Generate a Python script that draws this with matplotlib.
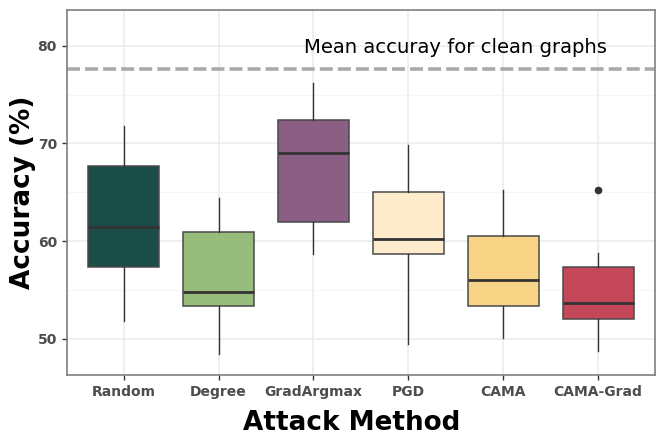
import matplotlib
matplotlib.use("Agg")
import matplotlib.pyplot as plt
from matplotlib.ticker import MultipleLocator

# ------ Data ------
methods = ["Random", "Degree", "GradArgmax", "PGD", "CAMA", "CAMA-Grad"]
whisk_lo = [51.8, 48.4, 58.65, 49.45, 50.1, 48.7]
q1 = [57.35, 53.4, 61.95, 58.7, 53.35, 52.05]
median = [61.4, 54.8, 69.0, 60.2, 56.05, 53.65]
q3 = [67.7, 60.95, 72.35, 65.05, 60.5, 57.3]
whisk_hi = [71.8, 64.45, 76.2, 69.8, 65.2, 58.8]
outliers = [[], [], [], [], [], [65.25]]
colors = ["#1B4D48", "#97BC7B", "#8B5E83", "#FEEBCC", "#F8D486", "#C5485A"]
clean_mean = 77.6

stats = []
for i in range(len(methods)):
    stats.append({"label": methods[i], "whislo": whisk_lo[i], "q1": q1[i],
                  "med": median[i], "q3": q3[i], "whishi": whisk_hi[i],
                  "fliers": outliers[i]})

fig = plt.figure(figsize=(6.65, 4.37), dpi=100)
ax = fig.add_axes([0.1003, 0.142, 0.8847, 0.835])

ax.set_axisbelow(True)
ax.yaxis.set_major_locator(MultipleLocator(10))
ax.yaxis.set_minor_locator(MultipleLocator(5))
ax.grid(True, which="major", color="#EBEBEB", linewidth=1.1)
ax.grid(True, which="minor", axis="y", color="#F4F4F4", linewidth=0.6)

pos = list(range(1, len(methods) + 1))
bp = ax.bxp(stats, positions=pos, widths=0.75, patch_artist=True, showcaps=False,
            boxprops=dict(edgecolor="#4A4A4A", linewidth=1.1),
            medianprops=dict(color="#333333", linewidth=2.0),
            whiskerprops=dict(color="#333333", linewidth=1.0),
            flierprops=dict(marker="o", markersize=4.5, markerfacecolor="#333333",
                            markeredgecolor="#333333"))
for patch, c in zip(bp["boxes"], colors):
    patch.set_facecolor(c)

# mean accuracy on clean graphs
ax.axhline(clean_mean, color="#AAAAAA", linestyle=(0, (3.6, 1.4)), linewidth=2.6, zorder=1)
ax.text(4.5, 79.85, "Mean accuray for clean graphs", ha="center", va="center",
        fontsize=14.1, color="black")

ax.set_xlim(0.4, 6.6)
ax.set_ylim(46.3, 83.65)

for s in ax.spines.values():
    s.set_color("#7F7F7F")
    s.set_linewidth(1.2)
ax.tick_params(axis="both", which="major", color="#333333", length=3.5, width=1.0,
               labelcolor="#4D4D4D", labelsize=10)
ax.tick_params(axis="y", which="minor", length=0)
for lab in ax.get_xticklabels() + ax.get_yticklabels():
    lab.set_fontweight("bold")

ax.set_xlabel("Attack Method", fontsize=18.9, fontweight="bold")
ax.set_ylabel("Accuracy (%)", fontsize=18.9, fontweight="bold")
ax.xaxis.set_label_coords(0.485, -0.097)
ax.yaxis.set_label_coords(-0.052, 0.5)

fig.savefig("out.png", dpi=100)
